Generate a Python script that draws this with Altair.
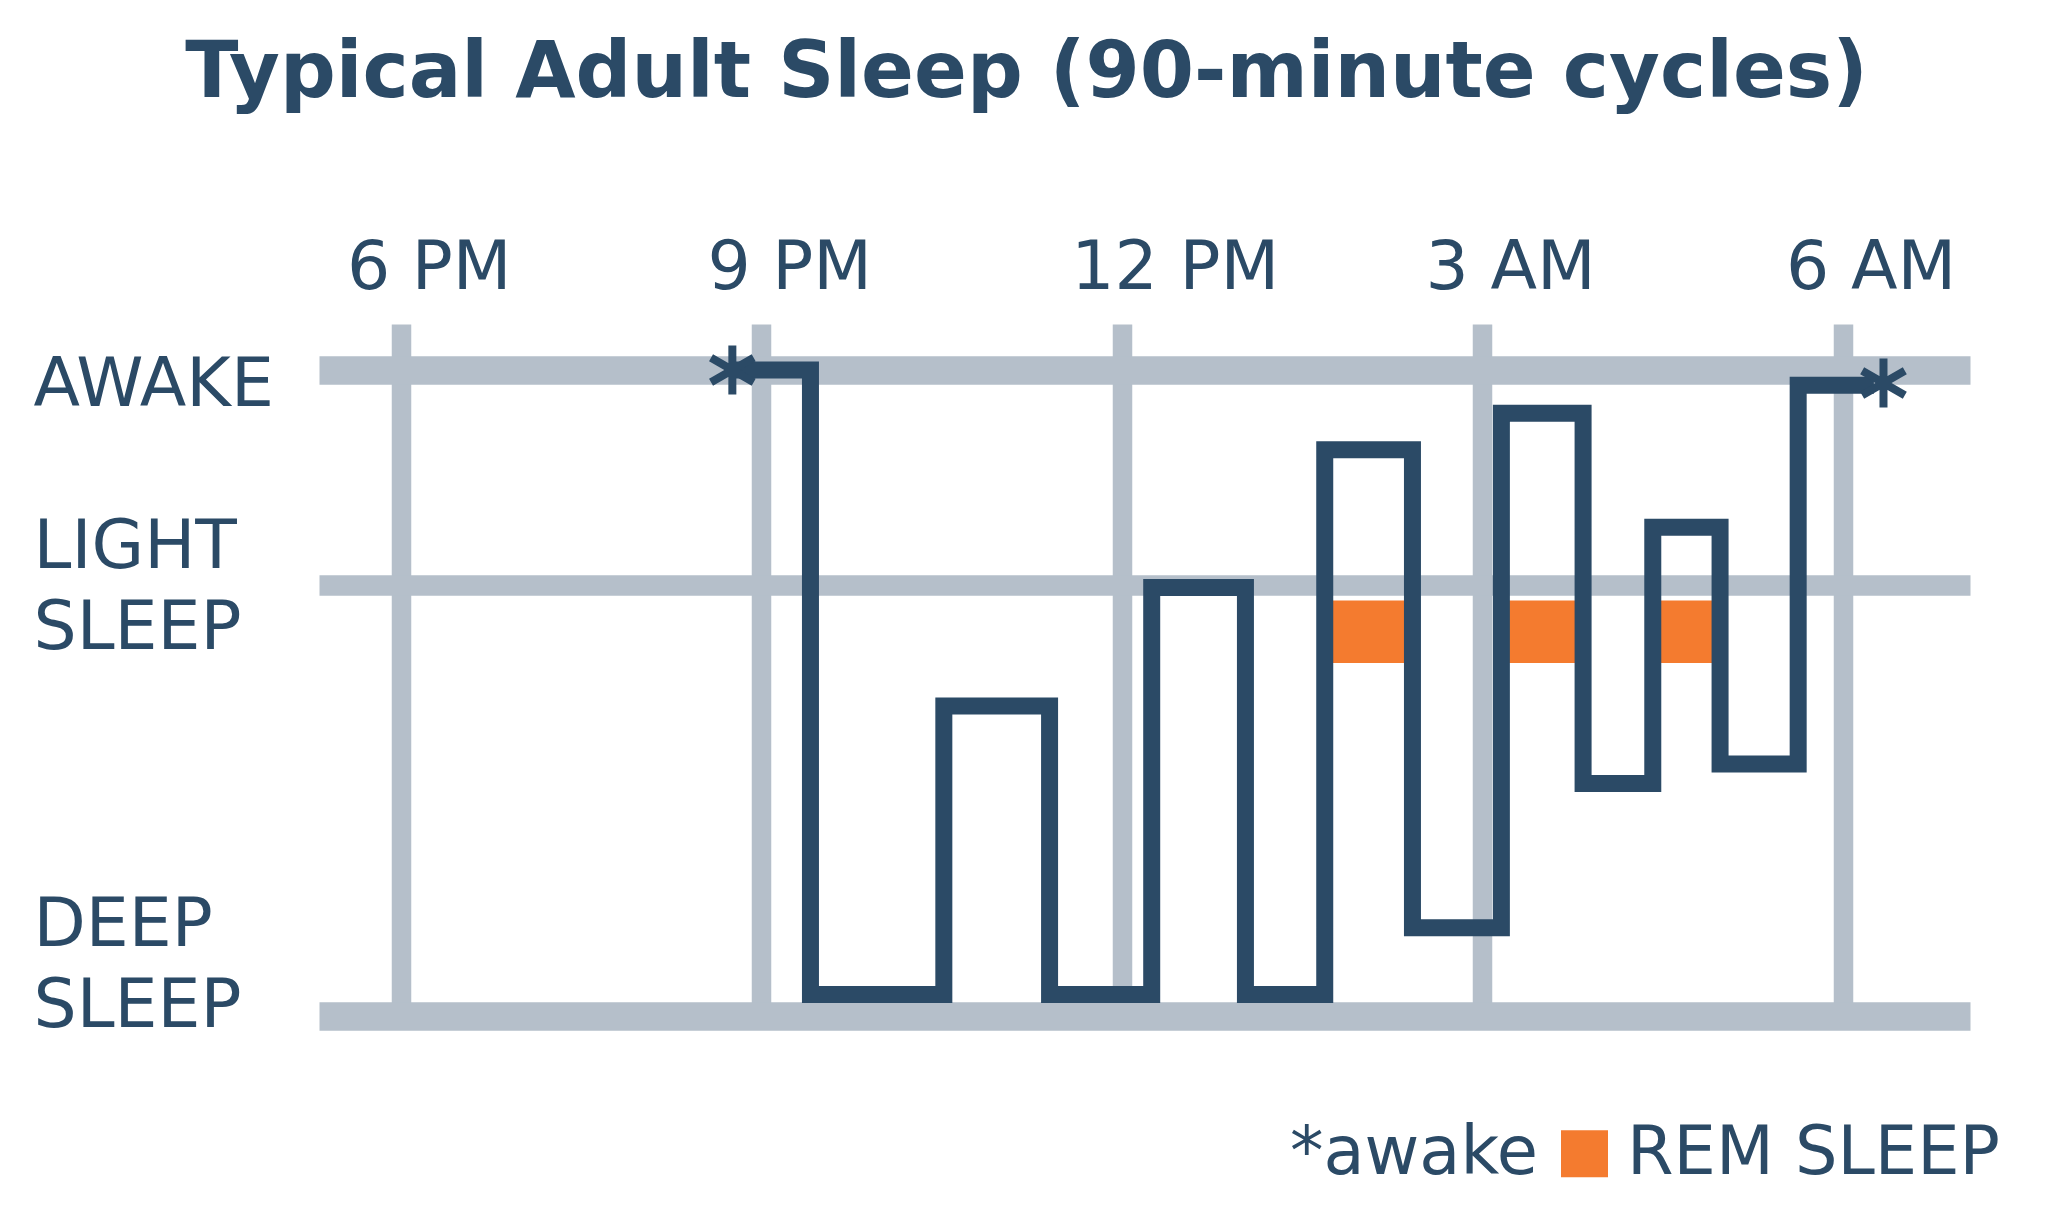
import altair as alt
import pandas as pd

# ---- data ----
# x = hours after 6 PM, y = sleep level (0 = deep sleep, 2 = light sleep, 3 = awake)
tick_hours = [0, 3, 6, 9, 12]
tick_labels = ["6 PM", "9 PM", "12 PM", "3 AM", "6 AM"]

level_values = [3, 2, 0]
level_labels = [["AWAKE"], ["LIGHT", "SLEEP"], ["DEEP", "SLEEP"]]

step_hours = [2.76, 3.41, 4.52, 5.40, 6.25, 7.03, 7.69, 8.42, 9.16, 9.84, 10.42, 10.98, 11.63, 12.26]
step_levels = [3.0, 0.1, 1.44, 0.1, 1.99, 0.1, 2.63, 0.41, 2.80, 1.08, 2.27, 1.17, 2.93, 2.93]

rem_start = [7.69, 9.16, 10.42]
rem_end = [8.42, 9.84, 10.98]
rem_top = [1.93, 1.93, 1.93]
rem_bottom = [1.64, 1.64, 1.64]

awake_hours = [2.76, 12.34]
awake_levels = [3.0, 2.94]

legend_labels = ["*awake", "REM SLEEP"]

# ---- style ----
NAVY = "#2b4a66"
GRAY = "#b5bfca"
ORANGE = "#f47b2f"
FONT = "DejaVu Sans"

def ternary(values, labels):
    expr = "''"
    for v, lab in reversed(list(zip(values, labels))):
        if isinstance(lab, list):
            lab_s = "[" + ",".join("'" + s + "'" for s in lab) + "]"
        else:
            lab_s = "'" + lab + "'"
        expr = f"datum.value == {v} ? {lab_s} : ({expr})"
    return expr

x_scale = alt.Scale(domain=[-0.68, 13.06], nice=False, zero=False)
y_scale = alt.Scale(domain=[0, 3.214], nice=False, zero=False)

x_axis = alt.Axis(
    orient="top", values=tick_hours, labelExpr=ternary(tick_hours, tick_labels),
    grid=True, gridColor=GRAY, gridWidth=19.5, gridOpacity=1,
    ticks=False, tickSize=0, domain=False, title=None,
    labelFont=FONT, labelFontSize=68, labelColor=NAVY, labelPadding=36,
    labelBaseline="alphabetic", labelAlign="center", labelLimit=1000,
    labelFlush=False, labelOverlap=False, labelBound=False,
    labelOffset={"condition": {"test": "datum.value == 6", "value": 53}, "value": 28},
)
y_axis = alt.Axis(
    orient="left", values=level_values, labelExpr=ternary(level_values, level_labels),
    grid=True, gridColor=GRAY, gridOpacity=1,
    gridWidth={"condition": {"test": "datum.value == 2", "value": 20.5}, "value": 28.5},
    ticks=False, tickSize=0, domain=False, title=None,
    labelFont=FONT, labelFontSize=68, labelColor=NAVY, labelPadding=286,
    labelAlign="left", labelBaseline="middle", labelLineHeight=81, labelLimit=1000,
    labelFlush=False, labelOverlap=False, labelBound=False,
    labelOffset={"condition": [{"test": "datum.value == 3", "value": 15},
                               {"test": "datum.value == 2", "value": -38}],
                 "value": -91},
)

rem_df = pd.DataFrame({"start": rem_start, "end": rem_end, "top": rem_top,
                       "bottom": rem_bottom, "kind": ["REM SLEEP"] * len(rem_start)})
line_df = pd.DataFrame({"hour": step_hours, "level": step_levels})
star_df = pd.DataFrame({"hour": awake_hours, "level": awake_levels})

rem = alt.Chart(rem_df).mark_rect(strokeWidth=0).encode(
    x=alt.X("start:Q", scale=x_scale, axis=x_axis),
    x2="end:Q",
    y=alt.Y("top:Q", scale=y_scale, axis=y_axis),
    y2="bottom:Q",
    color=alt.Color(
        "kind:N",
        scale=alt.Scale(domain=legend_labels, range=["rgba(0,0,0,0)", ORANGE]),
        legend=alt.Legend(
            title=None, orient="none", legendX=895, legendY=796, direction="horizontal",
            symbolType="square", symbolSize=2209, symbolStrokeWidth=0,
            labelFont=FONT, labelFontSize=67, labelColor=NAVY, labelOffset=9,
            columnPadding=12, labelLimit=1000, padding=0, rowPadding=0,
        ),
    ),
)

line = alt.Chart(line_df).mark_line(
    interpolate="step-after", strokeWidth=17, color=NAVY,
    strokeJoin="miter", strokeCap="butt",
).encode(
    x=alt.X("hour:Q", scale=x_scale, axis=x_axis),
    y=alt.Y("level:Q", scale=y_scale, axis=y_axis),
)

STAR = "M0,-1L0,1M-0.87,-0.5L0.87,0.5M-0.87,0.5L0.87,-0.5"
stars = alt.Chart(star_df).mark_point(
    shape=STAR, size=2401, strokeWidth=8, filled=False, color=NAVY, opacity=1,
    strokeCap="butt",
).encode(
    x=alt.X("hour:Q", scale=x_scale, axis=x_axis),
    y=alt.Y("level:Q", scale=y_scale, axis=y_axis),
)

chart = alt.layer(rem, line, stars).properties(
    width=1651, height=692,
    padding={"left": 25, "top": 27, "right": 20, "bottom": 20},
    title=alt.TitleParams(
        text="Typical Adult Sleep (90-minute cycles)", font=FONT, fontSize=78,
        fontWeight="bold", color=NAVY, anchor="middle", frame="group",
        dx=-118, offset=121,
    ),
).configure(background="white").configure_view(
    stroke="transparent", strokeWidth=0
)

chart.save("out.html", embed_options={"renderer": "svg", "actions": False})
